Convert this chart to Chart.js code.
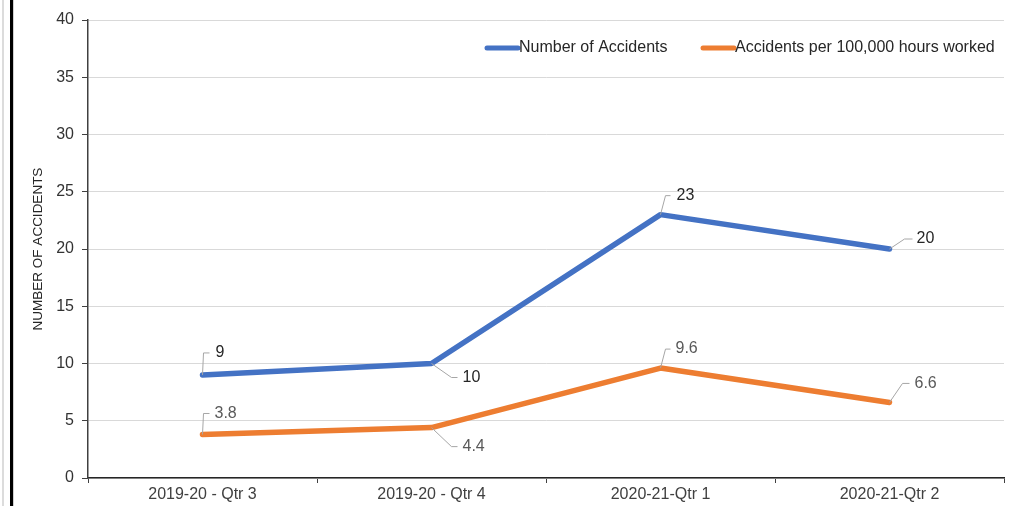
<!DOCTYPE html>
<html>
<head>
<meta charset="utf-8">
<script src="https://cdn.jsdelivr.net/npm/chart.js@4"></script>
<style>
  html, body { margin: 0; padding: 0; background: #fff; }
  #wrap { position: relative; width: 1011px; height: 506px; }
  #chart { position: absolute; left: 0; top: 0; }
  .edge { position: absolute; top: 0; height: 506px; }
</style>
</head>
<body>
<div id="wrap">
  <canvas id="chart" width="1011" height="506"></canvas>
  <div class="edge" style="left:2px;width:2px;background:#dcdcdc"></div>
  <div class="edge" style="left:10px;width:3px;background:#000"></div>
  <div class="edge" style="left:13px;width:1px;background:#d0d0d0"></div>
</div>
<script>
const quarters = ["2019-20 - Qtr 3", "2019-20 - Qtr 4", "2020-21-Qtr 1", "2020-21-Qtr 2"];
const accidents = [9, 10, 23, 20];
const accidentRate = [3.8, 4.4, 9.6, 6.6];
const yTicks = [0, 5, 10, 15, 20, 25, 30, 35, 40];

const FONT = "'Liberation Sans', Arial, sans-serif";

// leader line for each data label: [bendX, bendY, endX, textX] relative to the point
const leaders = [
  [[1, -22, 7, 13], [20, 14, 26, 31], [5, -19, 10, 16], [15, -10, 23, 27]],
  [[1, -21, 7, 12], [20, 19, 26, 31], [5, -19, 10, 15], [13, -19, 20, 25]]
];
const labelColors = ["#262626", "#595959"];

const labelPlugin = {
  id: "leaderLabels",
  afterDatasetsDraw(chart) {
    const ctx = chart.ctx;
    ctx.save();
    ctx.font = "16px " + FONT;
    ctx.textBaseline = "middle";
    ctx.textAlign = "left";
    chart.data.datasets.forEach((ds, di) => {
      chart.getDatasetMeta(di).data.forEach((pt, i) => {
        const [bx, by, ex, tx] = leaders[di][i];
        ctx.strokeStyle = "#a6a6a6";
        ctx.lineWidth = 1;
        ctx.beginPath();
        ctx.moveTo(pt.x, pt.y);
        ctx.lineTo(pt.x + bx, pt.y + by);
        ctx.lineTo(pt.x + ex, pt.y + by);
        ctx.stroke();
        ctx.fillStyle = labelColors[di];
        ctx.fillText(String(ds.data[i]), pt.x + tx, pt.y + by);
      });
    });
    ctx.restore();
  }
};

const legendPlugin = {
  id: "lineLegend",
  afterDraw(chart) {
    const ctx = chart.ctx;
    const y = 48;
    const starts = [487, 703];
    ctx.save();
    ctx.font = "16px " + FONT;
    ctx.textBaseline = "middle";
    ctx.textAlign = "left";
    chart.data.datasets.forEach((ds, di) => {
      const x = starts[di];
      ctx.strokeStyle = ds.borderColor;
      ctx.lineWidth = 5;
      ctx.lineCap = "round";
      ctx.beginPath();
      ctx.moveTo(x, y);
      ctx.lineTo(x + 31, y);
      ctx.stroke();
      ctx.fillStyle = "#262626";
      ctx.fillText(ds.label, x + 32, y);
    });
    ctx.restore();
  }
};

new Chart(document.getElementById("chart"), {
  type: "line",
  data: {
    labels: quarters,
    datasets: [
      { label: "Number of Accidents", data: accidents, borderColor: "#4472C4", backgroundColor: "#4472C4",
        borderWidth: 5.5, pointRadius: 0, tension: 0, borderCapStyle: "round", borderJoinStyle: "round" },
      { label: "Accidents per 100,000 hours worked", data: accidentRate, borderColor: "#ED7D31", backgroundColor: "#ED7D31",
        borderWidth: 5.5, pointRadius: 0, tension: 0, borderCapStyle: "round", borderJoinStyle: "round" }
    ]
  },
  options: {
    responsive: false,
    animation: false,
    layout: { padding: { left: 0, right: 7, top: 20, bottom: 0 } },
    plugins: { legend: { display: false }, tooltip: { enabled: false } },
    scales: {
      x: {
        offset: true,
        grid: { offset: true, drawOnChartArea: false, drawTicks: true, tickLength: 5, tickColor: "#404040" },
        border: { color: "#262626", width: 1.5 },
        ticks: { color: "#404040", font: { family: FONT, size: 16 }, padding: 2, maxRotation: 0, autoSkip: false },
        afterFit(scale) { scale.height = 28; }
      },
      y: {
        min: 0,
        max: 40,
        afterBuildTicks(scale) { scale.ticks = yTicks.map(v => ({ value: v })); },
        grid: { color: "#d9d9d9", lineWidth: 1, tickLength: 6, tickColor: "#404040" },
        border: { color: "#404040", width: 1.5 },
        ticks: { color: "#333333", font: { family: FONT, size: 16 }, padding: 8 },
        title: { display: true, text: "NUMBER OF ACCIDENTS", color: "#262626",
                 font: { family: FONT, size: 13.5 }, padding: { top: 30, bottom: 0 } },
        afterFit(scale) { scale.width = 88; }
      }
    }
  },
  plugins: [labelPlugin, legendPlugin]
});
</script>
</body>
</html>
